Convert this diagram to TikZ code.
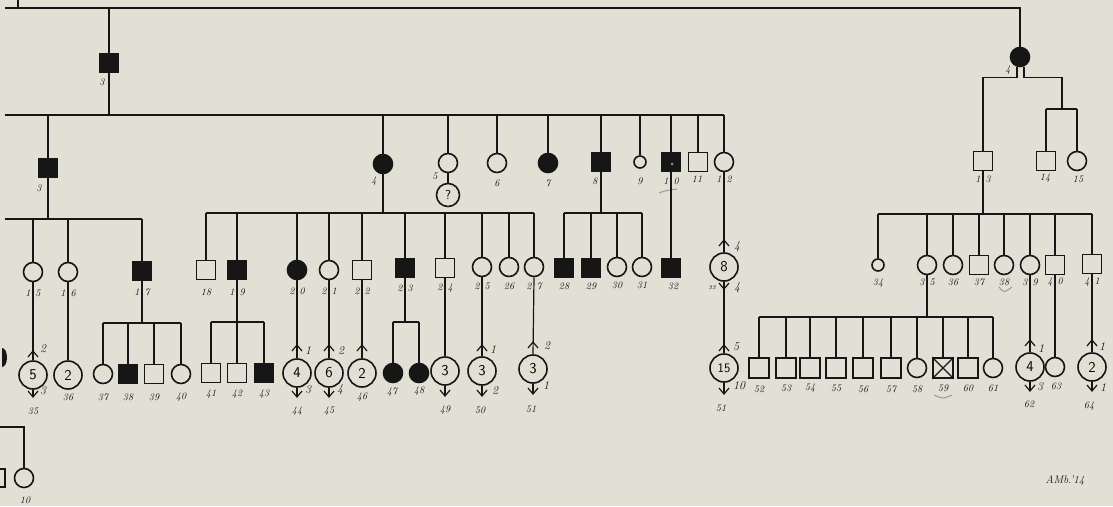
\documentclass[tikz,border=0pt]{standalone}
\definecolor{bg}{RGB}{226,224,212}
\definecolor{ink}{RGB}{22,22,22}
\definecolor{pencil}{RGB}{150,155,160}
\newcommand\plab[4]{\node[lab] (#1) at (#2,#3) {#4};}
\newcommand\slab[5]{\node[lab] (#1) at (#2,#3) {#4\hspace{5pt}#5};}
\newcommand\anum[4]{\node[num] (#1) at (#2,#3) {#4};}
\begin{document}
\begin{tikzpicture}[x=1pt,y=-1pt,
  ln/.style={draw=ink,line width=1.2pt},
  sq/.style={draw=ink,line width=1.6pt,rectangle,minimum size=19pt,inner sep=0pt},
  sqf/.style={sq,fill=ink},
  ci/.style={draw=ink,line width=1.6pt,circle,minimum size=19pt,inner sep=0pt},
  cif/.style={ci,fill=ink},
  cis/.style={ci,minimum size=12pt},
  big/.style={ci,minimum size=28pt,font=\fontsize{15}{15}\sffamily\selectfont},
  lab/.style={font=\fontsize{10}{10}\itshape\selectfont,inner sep=0pt,text=ink},
  num/.style={font=\fontsize{12}{12}\itshape\selectfont,inner sep=0pt,text=ink},
  upch/.pic={\draw[ln] (-5,6)--(0,0)--(5,6);},
  dnch/.pic={\draw[ln] (-5,-6)--(0,0)--(5,-6);}
]
\fill[bg] (0,0) rectangle (1113,506);
\useasboundingbox (0,0) rectangle (1113,506);

% ---------- generation I/II ----------
\coordinate (t0) at (5,8); \coordinate (t1) at (1020,8); \coordinate (tk) at (18,0);
\node[sqf] (II3) at (109,63) {};
\node[cif] (II4) at (1020,57) {};
\draw[ln] (t0) -- (t1) -- (II4.north);
\draw[ln] (tk) -- (tk |- t0);
\draw[ln] (II3.north |- t0) -- (II3.north);
\plab{lII3}{102}{82}{3}
\plab{lII4}{1008}{70}{4}

% ---------- sibship A ----------
\coordinate (A0) at (5,115); \coordinate (A1) at (724,115);
\draw[ln] (A0) -- (A1);
\draw[ln] (II3.south) -- (II3.south |- A0);
\node[sqf] (a3) at (48,168) {};
\node[cif] (a4) at (383,164) {};
\node[ci] (a5) at (448,163) {};
\node[ci,minimum size=23pt,font=\fontsize{13}{13}\sffamily\selectfont] (a5q) at (448,195) {?};
\node[ci] (a6) at (497,163) {};
\node[cif] (a7) at (548,163) {};
\node[sqf] (a8) at (601,162) {};
\node[cis] (a9) at (640,162) {};
\node[sqf] (a10) at (671,162) {};
\node[sq] (a11) at (698,162) {};
\node[ci] (a12) at (724,162) {};
\foreach \n in {a3,a4,a5,a6,a7,a8,a9,a10,a11,a12} \draw[ln] (\n.north) -- (\n.north |- A0);
\draw[ln] (a5.south) -- (a5q.north);
\fill[bg!60!ink] (672,164) circle (1.5);
\plab{la3}{39}{188}{3}
\plab{la4}{374}{181}{4}
\plab{la5}{435}{176}{5}
\plab{la6}{497}{183}{6}
\plab{la7}{548}{183}{7}
\plab{la8}{595}{181}{8}
\plab{la9}{640}{181}{9}
\slab{la10}{671}{181}{1}{0}
\plab{la11}{697}{179}{11}
\slab{la12}{724}{179}{1}{2}
\draw[pencil,line width=1pt] (659,193) .. controls (666,190) and (671,190) .. (677,189);

% ---------- children of 3 ----------
\coordinate (B0) at (5,219); \coordinate (B1) at (142,219);
\draw[ln] (B0) -- (B1);
\draw[ln] (a3.south) -- (a3.south |- B0);
\node[ci] (b15) at (33,272) {};
\node[ci] (b16) at (68,272) {};
\node[sqf] (b17) at (142,271) {};
\foreach \n in {b15,b16,b17} \draw[ln] (\n.north) -- (\n.north |- B0);
\slab{lb15}{33}{293}{1}{5}
\slab{lb16}{68}{293}{1}{6}
\slab{lb17}{142}{292}{1}{7}

\node[big] (n35) at (33,375) {5};
\draw[ln] (b15.south) -- (n35.north);
\pic at (33,351) {upch};
\coordinate (n35d) at (33,397);
\draw[ln] (n35.south) -- (n35d); \pic at (n35d) {dnch};
\anum{u35}{43}{349}{2}
\anum{d35}{43}{391}{3}
\plab{l35}{33}{411}{35}
\node[big] (n36) at (68,375) {2};
\draw[ln] (b16.south) -- (n36.north);
\plab{l36}{68}{397}{36}

\coordinate (C0) at (103,323); \coordinate (C1) at (181,323);
\draw[ln] (C0) -- (C1);
\draw[ln] (b17.south) -- (b17.south |- C0);
\node[ci] (c37) at (103,374) {};
\node[sqf] (c38) at (128,374) {};
\node[sq] (c39) at (154,374) {};
\node[ci] (c40) at (181,374) {};
\foreach \n in {c37,c38,c39,c40} \draw[ln] (\n.north) -- (\n.north |- C0);
\plab{l37}{103}{397}{37}
\plab{l38}{128}{397}{38}
\plab{l39}{154}{397}{39}
\plab{l40}{181}{397}{40}

% left edge remnants
\fill[ink] (2,367) arc[start angle=90,end angle=-90,x radius=5,y radius=9.5] -- cycle;
\coordinate (e0) at (0,427);
\node[ci] (x10) at (24,478) {};
\draw[ln] (e0) -| (x10.north);
\draw[ln] (0,469) -- (5,469) -- (5,487) -- (0,487);
\plab{lx10}{25}{500}{10}

% ---------- children of 4 ----------
\coordinate (D0) at (206,213); \coordinate (D1) at (534,213);
\draw[ln] (D0) -- (D1);
\draw[ln] (a4.south) -- (a4.south |- D0);
\node[sq] (d18) at (206,270) {};
\node[sqf] (d19) at (237,270) {};
\node[cif] (d20) at (297,270) {};
\node[ci] (d21) at (329,270) {};
\node[sq] (d22) at (362,270) {};
\node[sqf] (d23) at (405,268) {};
\node[sq] (d24) at (445,268) {};
\node[ci] (d25) at (482,267) {};
\node[ci] (d26) at (509,267) {};
\node[ci] (d27) at (534,267) {};
\foreach \n in {d18,d19,d20,d21,d22,d23,d24,d25,d26,d27} \draw[ln] (\n.north) -- (\n.north |- D0);
\plab{l18}{206}{292}{18}
\slab{l19}{237}{292}{1}{9}
\slab{l20}{297}{291}{2}{0}
\slab{l21}{329}{291}{2}{1}
\slab{l22}{362}{291}{2}{2}
\slab{l23}{405}{288}{2}{3}
\slab{l24}{445}{288}{2}{4}
\slab{l25}{482}{286}{2}{5}
\plab{l26}{509}{286}{26}
\slab{l27}{534}{286}{2}{7}

\coordinate (E0) at (211,322); \coordinate (E1) at (264,322);
\draw[ln] (E0) -- (E1);
\draw[ln] (d19.south) -- (d19.south |- E0);
\node[sq] (e41) at (211,373) {};
\node[sq] (e42) at (237,373) {};
\node[sqf] (e43) at (264,373) {};
\foreach \n in {e41,e42,e43} \draw[ln] (\n.north) -- (\n.north |- E0);
\plab{l41}{211}{394}{41}
\plab{l42}{237}{394}{42}
\plab{l43}{264}{394}{43}

\node[big] (n44) at (297,373) {4};
\draw[ln] (d20.south) -- (n44.north);
\pic at (297,345) {upch};
\coordinate (n44d) at (297,397);
\draw[ln] (n44.south) -- (n44d); \pic at (n44d) {dnch};
\anum{u44}{308}{351}{1}
\anum{d44}{308}{390}{3}
\plab{l44}{297}{411}{44}

\node[big] (n45) at (329,373) {6};
\draw[ln] (d21.south) -- (n45.north);
\pic at (329,345) {upch};
\coordinate (n45d) at (329,397);
\draw[ln] (n45.south) -- (n45d); \pic at (n45d) {dnch};
\anum{u45}{341}{351}{2}
\anum{d45}{340}{390}{4}
\plab{l45}{329}{411}{45}

\node[big] (n46) at (362,373) {2};
\draw[ln] (d22.south) -- (n46.north);
\pic at (362,345) {upch};
\plab{l46}{362}{397}{46}

\coordinate (F0) at (393,322); \coordinate (F1) at (419,322);
\draw[ln] (F0) -- (F1);
\draw[ln] (d23.south) -- (d23.south |- F0);
\node[cif] (f47) at (393,373) {};
\node[cif] (f48) at (419,373) {};
\foreach \n in {f47,f48} \draw[ln] (\n.north) -- (\n.north |- F0);
\plab{l47}{392}{392}{47}
\plab{l48}{419}{391}{48}

\node[big] (n49) at (445,371) {3};
\draw[ln] (d24.south) -- (n49.north);
\coordinate (n49d) at (445,396);
\draw[ln] (n49.south) -- (n49d); \pic at (n49d) {dnch};
\plab{l49}{445}{410}{49}

\node[big] (n50) at (482,371) {3};
\draw[ln] (d25.south) -- (n50.north);
\pic at (482,345) {upch};
\coordinate (n50d) at (482,396);
\draw[ln] (n50.south) -- (n50d); \pic at (n50d) {dnch};
\anum{u50}{493}{350}{1}
\anum{d50}{495}{391}{2}
\plab{l50}{480}{410}{50}

\node[big] (n51) at (533,369) {3};
\draw[ln] (d27.south) -- (n51.north);
\pic at (533,342) {upch};
\coordinate (n51d) at (533,394);
\draw[ln] (n51.south) -- (n51d); \pic at (n51d) {dnch};
\anum{u51}{547}{346}{2}
\anum{d51}{546}{386}{1}
\plab{l51}{531}{409}{51}

% ---------- children of 8, 10, 12 ----------
\coordinate (G0) at (564,213); \coordinate (G1) at (642,213);
\draw[ln] (G0) -- (G1);
\draw[ln] (a8.south) -- (a8.south |- G0);
\node[sqf] (g28) at (564,268) {};
\node[sqf] (g29) at (591,268) {};
\node[ci] (g30) at (617,267) {};
\node[ci] (g31) at (642,267) {};
\foreach \n in {g28,g29,g30,g31} \draw[ln] (\n.north) -- (\n.north |- G0);
\plab{l28}{564}{286}{28}
\plab{l29}{591}{286}{29}
\plab{l30}{617}{285}{30}
\plab{l31}{642}{285}{31}
\node[sqf] (g32) at (671,268) {};
\draw[ln] (a10.south) -- (g32.north);
\plab{l32}{673}{286}{32}

\node[big] (n33) at (724,267) {8};
\draw[ln] (a12.south) -- (n33.north);
\pic at (724,240) {upch};
\anum{u33}{737}{247}{4}
\pic at (724,289) {dnch};
\anum{d33}{737}{288}{4}
\node[font=\fontsize{6}{6}\itshape\selectfont,inner sep=0pt] (l33) at (712,288) {33};
\node[big,font=\fontsize{13}{13}\sffamily\selectfont] (n51b) at (724,368) {15};
\draw[ln] (n33.south) -- (n51b.north);
\pic at (724,345) {upch};
\anum{u51b}{736}{347}{5}
\coordinate (n51bd) at (724,394);
\draw[ln] (n51b.south) -- (n51bd); \pic at (n51bd) {dnch};
\anum{d51b}{739}{386}{10}
\plab{l51b}{721}{408}{51}

% ---------- right branch ----------
\node[sq] (r13) at (983,161) {};
\node[sq] (r14) at (1046,161) {};
\node[ci] (r15) at (1077,161) {};
\coordinate (H0) at (1046,109); \coordinate (H1) at (1077,109); \coordinate (Hm) at (1062,109);
\draw[ln] ([xshift=-3pt]II4.south) -- ++(0,10) -| (r13.north);
\draw[ln] ([xshift=4pt]II4.south) -- ++(0,10) -| (Hm);
\draw[ln] (H0) -- (H1);
\draw[ln] (r14.north) -- (r14.north |- H0);
\draw[ln] (r15.north) -- (r15.north |- H0);
\slab{l13}{983}{179}{1}{3}
\plab{l14}{1045}{178}{14}
\plab{l15}{1078}{179}{15}

\coordinate (I0) at (878,214); \coordinate (I1) at (1092,214);
\draw[ln] (I0) -- (I1);
\draw[ln] (r13.south) -- (r13.south |- I0);
\node[cis] (i34) at (878,265) {};
\node[ci] (i35) at (927,265) {};
\node[ci] (i36) at (953,265) {};
\node[sq] (i37) at (979,265) {};
\node[ci] (i38) at (1004,265) {};
\node[ci] (i39) at (1030,265) {};
\node[sq] (i40) at (1055,265) {};
\node[sq] (i41) at (1092,264) {};
\foreach \n in {i34,i35,i36,i37,i38,i39,i40,i41} \draw[ln] (\n.north) -- (\n.north |- I0);
\plab{l34}{878}{283}{34}
\slab{l35r}{927}{282}{3}{5}
\plab{l36r}{953}{282}{36}
\plab{l37r}{979}{282}{37}
\plab{l38r}{1004}{282}{38}
\slab{l39r}{1030}{282}{3}{9}
\slab{l40r}{1055}{282}{4}{0}
\slab{l41r}{1092}{282}{4}{1}
\draw[pencil,line width=1pt] (999,287) .. controls (1004,293) .. (1012,287);

\coordinate (J0) at (759,317); \coordinate (J1) at (993,317);
\draw[ln] (J0) -- (J1);
\draw[ln] (i35.south) -- (i35.south |- J0);
\node[sq,minimum size=20pt] (j52) at (759,368) {};
\node[sq,minimum size=20pt] (j53) at (786,368) {};
\node[sq,minimum size=20pt] (j54) at (810,368) {};
\node[sq,minimum size=20pt] (j55) at (836,368) {};
\node[sq,minimum size=20pt] (j56) at (863,368) {};
\node[sq,minimum size=20pt] (j57) at (891,368) {};
\node[ci] (j58) at (917,368) {};
\node[sq,minimum size=20pt] (j59) at (943,368) {};
\node[sq,minimum size=20pt] (j60) at (968,368) {};
\node[ci] (j61) at (993,368) {};
\foreach \n in {j52,j53,j54,j55,j56,j57,j58,j59,j60,j61} \draw[ln] (\n.north) -- (\n.north |- J0);
\draw[ln] (j59.north west) -- (j59.south east) (j59.north east) -- (j59.south west);
\plab{l52}{759}{389}{52}
\plab{l53}{786}{388}{53}
\plab{l54}{810}{388}{54}
\plab{l55}{836}{388}{55}
\plab{l56}{863}{389}{56}
\plab{l57}{891}{389}{57}
\plab{l58}{917}{389}{58}
\plab{l59}{943}{388}{59}
\plab{l60}{968}{388}{60}
\plab{l61}{993}{388}{61}
\draw[pencil,line width=1pt] (934,395) .. controls (943,399) .. (952,395);

\node[big] (n62) at (1030,367) {4};
\draw[ln] (i39.south) -- (n62.north);
\pic at (1030,340) {upch};
\coordinate (n62d) at (1030,391);
\draw[ln] (n62.south) -- (n62d); \pic at (n62d) {dnch};
\anum{u62}{1041}{349}{1}
\anum{d62}{1040}{387}{3}
\plab{l62}{1029}{404}{62}

\node[ci] (n63) at (1055,367) {};
\draw[ln] (i40.south) -- (n63.north);
\plab{l63}{1056}{386}{63}

\node[big] (n64) at (1092,367) {2};
\draw[ln] (i41.south) -- (n64.north);
\pic at (1092,340) {upch};
\coordinate (n64d) at (1092,391);
\draw[ln] (n64.south) -- (n64d); \pic at (n64d) {dnch};
\anum{u64}{1102}{347}{1}
\anum{d64}{1103}{388}{1}
\plab{l64}{1089}{406}{64}

\node[font=\fontsize{11}{11}\itshape\selectfont,inner sep=0pt,text=ink] (sig) at (1065,481) {AMb.'14};
\end{tikzpicture}
\end{document}
